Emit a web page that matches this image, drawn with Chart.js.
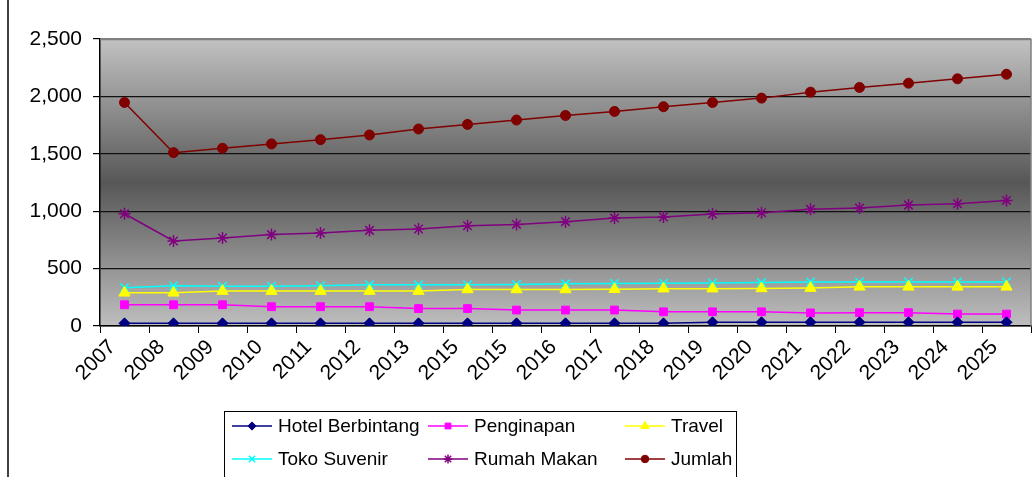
<!DOCTYPE html>
<html>
<head>
<meta charset="utf-8">
<script src="https://cdn.jsdelivr.net/npm/chart.js@4/dist/chart.umd.min.js"></script>
<style>
  html, body { margin: 0; padding: 0; background: #fff; }
  #wrap { width: 1036px; height: 477px; position: relative; }
</style>
</head>
<body>
<div id="wrap"><canvas id="chart"></canvas></div>
<script>
// data (2014 is labelled "2015" twice in the original)
const years = ["2007", "2008", "2009", "2010", "2011", "2012", "2013", "2015", "2015", "2016",
  "2017", "2018", "2019", "2020", "2021", "2022", "2023", "2024", "2025"];
const hotelBerbintang = [23, 23, 23, 23, 23, 23, 23, 23, 23, 23, 23, 23, 32, 32, 32, 32, 32, 32, 32];
const penginapan = [185, 185, 185, 168, 168, 168, 152, 152, 139, 139, 139, 124, 124, 124, 114, 116, 116, 104, 104];
const travel = [289, 289, 304, 304, 304, 304, 304, 318, 318, 318, 320, 325, 325, 327, 330, 341, 341, 341, 341];
const tokoSuvenir = [333, 350, 347, 347, 350, 359, 359, 359, 362, 367, 370, 372, 375, 378, 383, 383, 383, 383, 383];
const rumahMakan = [978, 741, 767, 796, 810, 833, 845, 874, 885, 909, 940, 949, 975, 987, 1016, 1027, 1053, 1065, 1094];
const jumlah = [1947, 1510, 1548, 1586, 1623, 1664, 1716, 1756, 1794, 1834, 1869, 1910, 1947, 1985, 2037, 2078, 2115, 2153, 2193];
const yTicks = [0, 500, 1000, 1500, 2000, 2500];

const FONT = "'Liberation Sans', Arial, sans-serif";

function serie(label, data, color, style, radius) {
  return {
    label: label,
    data: data,
    borderColor: color,
    backgroundColor: color,
    pointBackgroundColor: color,
    pointBorderColor: color,
    pointStyle: style,
    pointRadius: radius,
    pointBorderWidth: (style == 'star' || style == 'crossRot') ? 1.5 : 1,
    borderWidth: 1.5,
    tension: 0
  };
}

var datasets = [
  serie("Hotel Berbintang", hotelBerbintang, "#000080", "rectRot", 5.5),
  serie("Penginapan", penginapan, "#ff00ff", "rect", 5.5),
  serie("Travel", travel, "#ffff00", "triangle", 6.5),
  serie("Toko Suvenir", tokoSuvenir, "#00ffff", "crossRot", 6),
  serie("Rumah Makan", rumahMakan, "#800080", "star", 6),
  serie("Jumlah", jumlah, "#800000", "circle", 5)
];

// grey gradient plot area + frame
const plotBg = {
  id: 'plotBg',
  beforeDraw(chart) {
    var a = chart.chartArea, c = chart.ctx;
    var g = c.createLinearGradient(0, a.top, 0, a.bottom);
    g.addColorStop(0, '#c2c2c2');
    g.addColorStop(0.5, '#575757');
    g.addColorStop(1, '#bebebe');
    c.save();
    c.fillStyle = g;
    c.fillRect(a.left, a.top, a.right - a.left, a.bottom - a.top);
    // outer chart border on the left
    c.strokeStyle = '#000';
    c.lineWidth = 1.5;
    c.beginPath();
    c.moveTo(8, 0);
    c.lineTo(8, chart.height);
    c.stroke();
    c.restore();
  },
  beforeDatasetsDraw(chart) {
    var a = chart.chartArea, c = chart.ctx;
    c.save();
    c.strokeStyle = '#808080';
    c.lineWidth = 1.5;
    c.beginPath();
    c.moveTo(a.left, a.top + 0.5);
    c.lineTo(a.right, a.top + 0.5);
    c.lineTo(a.right, a.bottom);
    c.stroke();
    c.restore();
  }
};

// Excel-like legend box: 3 columns, 2 rows
const boxLegend = {
  id: 'boxLegend',
  afterDraw(chart) {
    var c = chart.ctx;
    var cols = [232, 428, 625];
    var rows = [426, 459];
    c.save();
    c.strokeStyle = '#000';
    c.lineWidth = 1;
    c.strokeRect(224.5, 411.5, 512, 80);
    chart.data.datasets.forEach(function (ds, i) {
      var x = cols[i % 3], y = rows[Math.floor(i / 3)];
      c.strokeStyle = ds.borderColor;
      c.lineWidth = 1.5;
      c.beginPath();
      c.moveTo(x, y);
      c.lineTo(x + 40, y);
      c.stroke();
      c.fillStyle = ds.pointBackgroundColor;
      c.strokeStyle = ds.pointBorderColor;
      c.lineWidth = ds.pointBorderWidth;
      Chart.helpers.drawPoint(c, {
        pointStyle: ds.pointStyle,
        radius: ds.pointRadius * 0.75,
        rotation: 0,
        borderWidth: ds.pointBorderWidth
      }, x + 20, y);
      c.fillStyle = '#000';
      c.font = "19px " + FONT;
      c.textBaseline = 'middle';
      c.textAlign = 'left';
      c.fillText(ds.label, x + 46, y + 1);
    });
    c.restore();
  }
};

new Chart(document.getElementById('chart'), {
  type: 'line',
  data: { labels: years, datasets: datasets },
  plugins: [plotBg, boxLegend],
  options: {
    responsive: true,
    maintainAspectRatio: false,
    animation: false,
    layout: { autoPadding: false, padding: { top: 39, right: 5, left: 0, bottom: 0 } },
    plugins: { legend: { display: false }, tooltip: { enabled: false } },
    scales: {
      x: {
        offset: true,
        afterFit: function (axis) { axis.height = 151; },
        grid: { offset: true, drawOnChartArea: false, drawTicks: true, tickLength: 7, color: '#000' },
        border: { color: '#000', width: 1.5 },
        ticks: {
          autoSkip: false,
          maxRotation: 45,
          minRotation: 45,
          labelOffset: -12,
          padding: 2,
          color: '#000',
          font: { family: FONT, size: 21 }
        }
      },
      y: {
        min: yTicks[0],
        max: yTicks[yTicks.length - 1],
        afterFit: function (axis) { axis.width = 100; },
        afterBuildTicks: function (axis) { axis.ticks = yTicks.map(function (v) { return { value: v }; }); },
        grid: {
          color: function (ctx) { return ctx.tick && ctx.tick.value == 2500 ? '#808080' : '#111'; },
          tickColor: '#000',
          tickLength: 7,
          lineWidth: 1.2
        },
        border: { color: '#000', width: 1.5 },
        ticks: {
          padding: 11,
          color: '#000',
          font: { family: FONT, size: 21 },
          callback: function (v) { return Number(v).toLocaleString('en-US'); }
        }
      }
    }
  }
});
</script>
</body>
</html>
